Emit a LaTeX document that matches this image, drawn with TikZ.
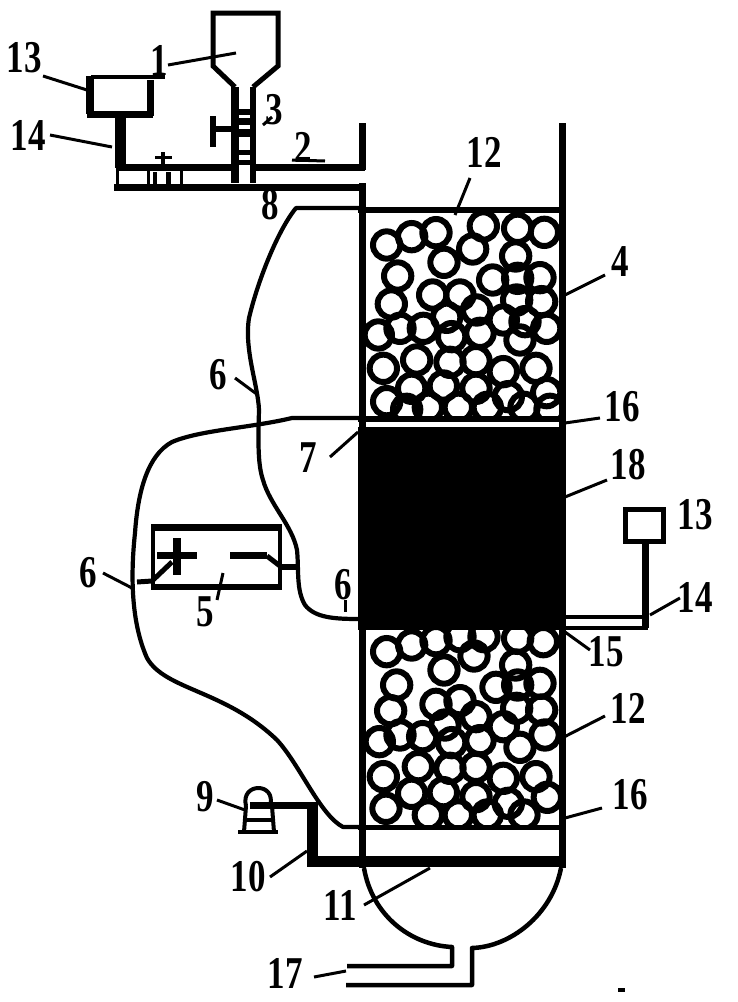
\documentclass[tikz,border=0pt]{standalone}
\usepackage{fontspec}
\setmainfont{Liberation Serif}
\newcommand{\lab}[1]{\scalebox{1}[1.3]{\bfseries #1}}
\tikzset{
  lbl/.style={inner sep=0pt,font=\fontsize{35}{35}\selectfont},
  lead/.style={line width=3pt},
  wire/.style={line width=4.2pt,line join=round},
  wall/.style={line width=7pt},
  ring/.style={line width=6pt}
}
\begin{document}
\begin{tikzpicture}[x=1pt,y=-1pt]
\useasboundingbox (0,0) rectangle (738,1002);
\fill[white] (0,0) rectangle (738,1002);

% packing, upper bed
\begin{scope}
\clip (362,212) rectangle (562,417);
\begin{scope}[x=0.3333pt,y=-0.3333pt,shift={(350pt,-200pt)}]
\foreach \a/\b in {110/135,185/110,258/98,400/78,503/85,583/97,368/147,497/168,282/187,143/228,428/240,503/235,570/233,124/312,248/285,330/285,380/330,500/300,575/305,85/405,150/385,220/385,290/352,305/410,390/400,460/360,525/365,590/385,510/420,100/505,200/480,300/487,378/482,460/515,558/505,185/565,280/558,378/565,475/590,590/578,110/605,235/622,325/622,412/622,522/622,600/628,170/628}
  \draw[ring] (\a,\b) circle (41);
\end{scope}
\end{scope}
% packing, lower bed
\begin{scope}
\clip (362,630) rectangle (562,827);
\begin{scope}[x=0.3333pt,y=-0.3333pt,shift={(350pt,-610pt)}]
\foreach \a/\b in {110/125,185/105,258/92,330/80,402/80,503/85,580/95,372/138,497/165,282/180,140/225,438/232,503/225,570/220,258/283,330/272,122/302,378/320,500/295,575/300,460/350,285/345,88/395,150/375,218/380,305/398,390/392,510/412,585/375,100/500,205/470,300/475,378/472,460/505,558/500,185/550,280/548,378/560,475/580,592/562,108/595,235/615,325/615,412/615,522/615}
  \draw[ring] (\a,\b) circle (41);
\end{scope}
\end{scope}

% reactor column
\draw[wall] (362,123) -- (362,170);
\draw[wall] (362,183) -- (362,868);
\draw[wall] (562,123) -- (562,868);
\draw[line width=6pt] (358,210) -- (565,210);
\draw[line width=6pt] (358,418.5) -- (565,418.5);
\fill (358,427) rectangle (566,630);
\draw[line width=5pt] (358,827) -- (565,827);
\draw[line width=11pt] (307,861) -- (566,861);

% feed hopper
\draw[line width=5pt,line join=miter] (235,87) -- (213,66) -- (213,13) -- (278,13) -- (278,66) -- (253,87);
\draw[line width=8pt] (235,87) -- (235,183);
\draw[line width=6pt] (253,87) -- (253,183);
\draw[line width=6pt] (235,112) -- (253,112);
\draw[line width=7pt] (235,121) -- (253,121);
\draw[line width=8pt] (235,133) -- (253,133);
\draw[line width=5pt] (235,152) -- (253,152);
\draw[line width=5pt] (235,162) -- (253,162);
\draw[line width=6pt] (213,129) -- (238,129);
\draw[line width=6pt] (213,116) -- (213,147);

% feed pipe
\draw[line width=7pt] (117,167) -- (232,167);
\draw[line width=7pt] (253,167) -- (365,167);
\draw[line width=7pt] (114,187) -- (365,187);
\draw[line width=3pt] (117,167) -- (117,187);
\draw[line width=3pt] (148,170) -- (148,185);
\draw[line width=3pt] (181,170) -- (181,185);
\draw[line width=4pt] (155,172) -- (155,184);
\draw[line width=5pt] (168,172) -- (168,184);
\draw[line width=3pt] (155,157) -- (172,157);
\draw[line width=4pt] (163,152) -- (163,165);

% upper-left gas box
\draw[line width=11pt] (120,115) -- (120,168);
\draw[line width=4pt] (91,77) -- (165,77);
\draw[line width=7.5pt] (90,76) -- (90,114);
\draw[line width=7pt] (150,80) -- (150,116);
\draw[line width=7pt] (87,114) -- (153,114);

% power supply
\draw[line width=4pt] (153,529) -- (153,587);
\draw[line width=4pt] (280,527) -- (280,587);
\draw[line width=7pt] (151,527) -- (282,527);
\draw[line width=6pt] (151,587) -- (282,587);
\draw[line width=7pt] (157,555) -- (197,555);
\draw[line width=8pt] (177,538) -- (177,575);
\draw[line width=7pt] (230,555) -- (267,555);
\draw[line width=5pt] (267,556) -- (280,566);
\draw[line width=6pt] (280,567) -- (298,567);
\draw[line width=5pt] (137,582) -- (152,581) -- (172,562);

% electrode wires
\draw[wire] (362,208) -- (296,208)
  .. controls (278,230) and (258,280) .. (249,318)
  .. controls (244,350) and (258,385) .. (259,410)
  .. controls (258,445) and (258,465) .. (263,480)
  .. controls (270,505) and (292,525) .. (297,550)
  .. controls (299,570) and (296,590) .. (305,605)
  .. controls (315,618) and (335,619) .. (360,619);
\draw[wire] (362,418) -- (292,418)
  .. controls (250,428) and (200,430) .. (172,442)
  .. controls (148,455) and (138,490) .. (135,533)
  .. controls (131,570) and (130,620) .. (147,658)
  .. controls (165,690) and (225,690) .. (277,740)
  .. controls (300,765) and (320,815) .. (343,827) -- (362,827);

% lower gas inlet and pump
\draw[line width=11pt] (312,802) -- (312,866);
\draw[line width=7pt] (250,805) -- (317,805);
\draw[line width=4pt] (246,806) .. controls (240,782) and (277,782) .. (270,806);
\draw[line width=4pt] (246,806) -- (244,832);
\draw[line width=4pt] (272,806) -- (274,832);
\draw[line width=4pt] (238,832) -- (278,832);
\draw[line width=4pt] (245,820) -- (273,820);

% bottom dome and outlet
\draw[line width=4.5pt,line join=round] (364,868) .. controls (372,915) and (410,945) .. (452,947) -- (452,966) -- (347,966);
\draw[line width=4.5pt,line join=round] (561,868) .. controls (552,915) and (510,947) .. (472,948) -- (472,985) -- (346,985);

% right gas box
\draw[line width=5pt] (625,509) rectangle (663,541);
\draw[line width=7pt] (645,541) -- (645,628);
\draw[line width=3.5pt] (565,617) -- (648,617);
\draw[line width=4pt] (565,628) -- (648,628);

% leaders
\draw[lead] (43,76) -- (87,90);
\draw[lead] (168,65) -- (236,53);
\draw[lead] (50,135) -- (112,147);
\draw[lead] (263,125) -- (272,117);
\draw[lead] (292,160) -- (325,161);
\draw[lead] (470,178) -- (455,215);
\draw[lead] (605,275) -- (565,295);
\draw[lead] (600,418) -- (565,423);
\draw[lead] (607,480) -- (565,497);
\draw[lead] (235,378) -- (258,395);
\draw[lead] (330,457) -- (358,432);
\draw[lead] (103,573) -- (132,588);
\draw[lead] (223,573) -- (217,600);
\draw[lead] (345,600) -- (345,612);
\draw[lead] (680,598) -- (650,615);
\draw[lead] (590,650) -- (565,632);
\draw[lead] (605,716) -- (562,738);
\draw[lead] (602,808) -- (565,818);
\draw[lead] (217,800) -- (245,810);
\draw[lead] (270,877) -- (307,851);
\draw[lead] (364,905) -- (430,868);
\draw[lead] (314,977) -- (346,971);
\fill (618,988) rectangle (625,992);

% labels
\node[lbl] (l13a) at (24,58) {\lab{13}};
\node[lbl] (l1)   at (159,60) {\lab{1}};
\node[lbl] (l14a) at (28,135) {\lab{14}};
\node[lbl] (l3)   at (274,110) {\lab{3}};
\node[lbl] (l2)   at (303,147) {\lab{2}};
\node[lbl] (l8a)  at (270,205) {\lab{8}};
\node[lbl] (l12a) at (484,152) {\lab{12}};
\node[lbl] (l4)   at (620,262) {\lab{4}};
\node[lbl] (l6a)  at (218,375) {\lab{6}};
\node[lbl] (l16a) at (622,407) {\lab{16}};
\node[lbl] (l7)   at (308,458) {\lab{7}};
\node[lbl] (l18)  at (628,465) {\lab{18}};
\node[lbl] (l13b) at (695,515) {\lab{13}};
\node[lbl] (l6b)  at (88,573) {\lab{6}};
\node[lbl] (l5)   at (205,612) {\lab{5}};
\node[lbl] (l6c)  at (343,585) {\lab{6}};
\node[lbl] (l14b) at (695,597) {\lab{14}};
\node[lbl] (l15)  at (606,652) {\lab{15}};
\node[lbl] (l12b) at (628,708) {\lab{12}};
\node[lbl] (l16b) at (630,795) {\lab{16}};
\node[lbl] (l9)   at (205,797) {\lab{9}};
\node[lbl] (l10)  at (248,877) {\lab{10}};
\node[lbl] (l11)  at (340,905) {\lab{11}};
\node[lbl] (l17)  at (285,973) {\lab{17}};
\end{tikzpicture}
\end{document}
